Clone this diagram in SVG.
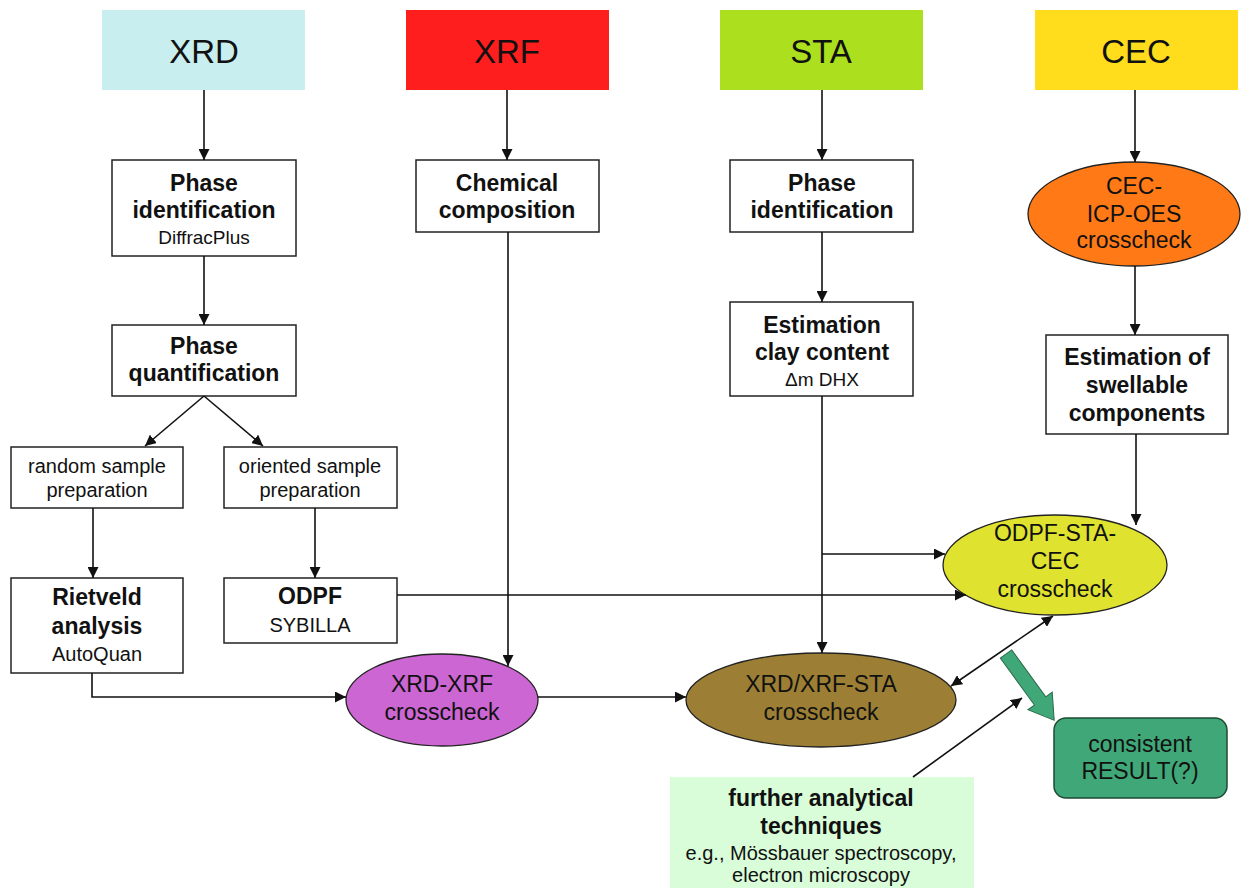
<svg xmlns="http://www.w3.org/2000/svg" width="1241" height="888" viewBox="0 0 1241 888">
<style>
text{font-family:"Liberation Sans",Arial,sans-serif;text-anchor:middle;fill:#111}
.h{font-size:33px}
.b{font-size:23px;font-weight:bold}
.r{font-size:23px}
.s{font-size:20px}
.xs{font-size:19px}
.box{fill:#fff;stroke:#222;stroke-width:1.5}
.ell{stroke:#222;stroke-width:1.3}
.c{fill:none;stroke:#111;stroke-width:1.6}
.a{marker-end:url(#ah)}
</style>
<defs>
<marker id="ah" markerUnits="userSpaceOnUse" markerWidth="11" markerHeight="11" refX="10" refY="5" orient="auto-start-reverse" viewBox="0 0 10 10">
<path d="M0,0 L10,5 L0,10 z" fill="#111"/>
</marker>
</defs>
<rect width="1241" height="888" fill="#fff"/>

<g id="xrd"><rect x="102" y="10" width="203" height="80" fill="#c8eef0"/><text class="h" x="204" y="63">XRD</text></g>
<g id="xrf"><rect x="406" y="10" width="203" height="80" fill="#ff1e1e"/><text class="h" x="507" y="63">XRF</text></g>
<g id="sta"><rect x="720" y="10" width="203" height="80" fill="#acdf1e"/><text class="h" x="821" y="63">STA</text></g>
<g id="cec"><rect x="1035" y="10" width="203" height="80" fill="#ffdd1c"/><text class="h" x="1136" y="63">CEC</text></g>

<g id="xrd-phase-id"><rect class="box" x="112" y="160" width="184" height="96"/><text class="b" x="204" y="191">Phase</text><text class="b" x="204" y="218">identification</text><text class="xs" x="204" y="244">DiffracPlus</text></g>
<g id="chem"><rect class="box" x="416" y="160" width="183" height="72"/><text class="b" x="507" y="191">Chemical</text><text class="b" x="507" y="218">composition</text></g>
<g id="sta-phase-id"><rect class="box" x="730" y="160" width="183" height="72"/><text class="b" x="822" y="191">Phase</text><text class="b" x="822" y="218">identification</text></g>
<g id="cec-icp"><ellipse class="ell" cx="1134" cy="214" rx="106" ry="52" fill="#ff7a16"/><text class="r" x="1134" y="194">CEC-</text><text class="r" x="1134" y="222">ICP-OES</text><text class="r" x="1134" y="248">crosscheck</text></g>

<g id="phase-quant"><rect class="box" x="112" y="325" width="184" height="71"/><text class="b" x="204" y="354">Phase</text><text class="b" x="204" y="381">quantification</text></g>
<g id="clay"><rect class="box" x="730" y="302" width="183" height="94"/><text class="b" x="822" y="333">Estimation</text><text class="b" x="822" y="360">clay content</text><text class="xs" x="822" y="386">Δm DHX</text></g>
<g id="swell"><rect class="box" x="1046" y="335" width="182" height="99"/><text class="b" x="1137" y="365">Estimation of</text><text class="b" x="1137" y="393">swellable</text><text class="b" x="1137" y="421">components</text></g>

<g id="random"><rect class="box" x="11" y="447" width="172" height="61"/><text class="s" x="97" y="473">random sample</text><text class="s" x="97" y="497">preparation</text></g>
<g id="oriented"><rect class="box" x="224" y="447" width="173" height="61"/><text class="s" x="310" y="473">oriented sample</text><text class="s" x="310" y="497">preparation</text></g>
<g id="rietveld"><rect class="box" x="11" y="578" width="172" height="95"/><text class="b" x="97" y="605">Rietveld</text><text class="b" x="97" y="634">analysis</text><text class="s" x="97" y="661">AutoQuan</text></g>
<g id="odpf"><rect class="box" x="224" y="578" width="173" height="65"/><text class="b" x="310" y="604">ODPF</text><text class="s" x="310" y="632">SYBILLA</text></g>

<g id="odpf-sta-cec"><ellipse class="ell" cx="1055" cy="565" rx="112" ry="50" fill="#dfe22f"/><text class="r" x="1055" y="541">ODPF-STA-</text><text class="r" x="1055" y="569">CEC</text><text class="r" x="1055" y="597">crosscheck</text></g>
<g id="xrd-xrf"><ellipse class="ell" cx="442" cy="700" rx="96" ry="46" fill="#cc66d2"/><text class="r" x="442" y="692">XRD-XRF</text><text class="r" x="442" y="720">crosscheck</text></g>
<g id="xrd-xrf-sta"><ellipse class="ell" cx="821" cy="700" rx="135" ry="47" fill="#9c7f34"/><text class="r" x="821" y="692">XRD/XRF-STA</text><text class="r" x="821" y="720">crosscheck</text></g>

<g id="result"><rect x="1054" y="718" width="173" height="80" rx="12" fill="#40a878" stroke="#1f4a33" stroke-width="1.5"/><text class="r" x="1140" y="752">consistent</text><text class="r" x="1140" y="779">RESULT(?)</text></g>
<g id="further"><rect x="670" y="777" width="304" height="111" fill="#d9fdd9"/><text class="b" x="821" y="806">further analytical</text><text class="b" x="821" y="834">techniques</text><text class="s" x="821" y="860">e.g., Mössbauer spectroscopy,</text><text class="s" x="821" y="882">electron microscopy</text></g>

<g id="connectors">
<path class="c a" d="M204,90 V160"/>
<path class="c a" d="M507,90 V160"/>
<path class="c a" d="M822,90 V160"/>
<path class="c a" d="M1135,90 V162"/>
<path class="c a" d="M204,256 V325"/>
<path class="c a" d="M822,232 V302"/>
<path class="c a" d="M1135,266 V335"/>
<path class="c a" d="M204,396 L145,446"/>
<path class="c a" d="M204,396 L263,446"/>
<path class="c a" d="M93,508 V578"/>
<path class="c a" d="M315,508 V578"/>
<path class="c a" d="M508,232 V666"/>
<path class="c a" d="M92,673 V697 H346"/>
<path class="c a" d="M538,697 H686"/>
<path class="c a" d="M822,396 V653"/>
<path class="c a" d="M822,554 H945"/>
<path class="c a" d="M397,595 H966"/>
<path class="c a" d="M1136,434 V525"/>
<path class="c a" style="marker-start:url(#ah)" d="M951,686 L1053,616"/>
<path class="c a" d="M913,777 L1022,698"/>
<polygon points="0,-7 58,-7 58,-15 82,0 58,15 58,7 0,7" transform="translate(1006,654) rotate(54)" fill="#40a878" stroke="#2a6a4a" stroke-width="1"/>
</g>
</svg>
